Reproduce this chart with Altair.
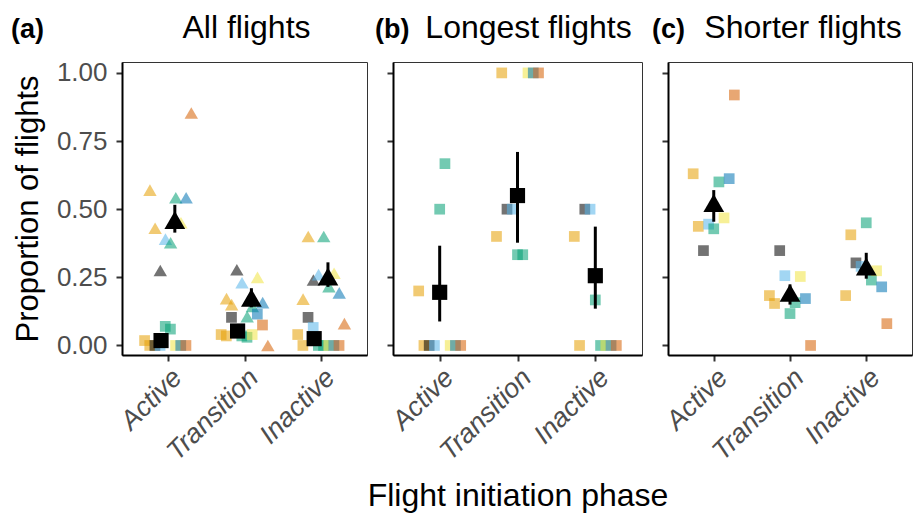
import altair as alt
import pandas as pd

PHASES = ["Active", "Transition", "Inactive"]
IDS = ["ID1", "ID2", "ID3", "ID4", "ID5", "ID6", "ID7", "ID8", "ID9"]
ID_COLORS = ["#E69F00", "#E69F00", "#000000", "#56B4E9", "#009E73",
             "#009E73", "#F0E442", "#0072B2", "#D55E00"]

# individual proportions (one value per individual, order of IDS)
a_tri_active = [0.57, 0.43, 0.275, 0.39, 0.377, 0.542, 0.45, 0.542, 0.853]
a_tri_transition = [0.172, 0.15, 0.278, 0.23, 0.106, 0.143, 0.25, 0.157, 0.0]
a_tri_inactive = [0.17, 0.40, 0.24, 0.26, 0.40, 0.216, 0.265, 0.193, 0.08]
a_sq_active = [0.018, 0.0, 0.0, 0.0, 0.07, 0.06, 0.0, 0.0, 0.0]
a_sq_transition = [0.04, 0.035, 0.103, 0.05, 0.035, 0.03, 0.04, 0.115, 0.075]
a_sq_inactive = [0.04, 0.0, 0.103, 0.066, 0.0, 0.0, 0.0, 0.0, 0.0]
b_sq_active = [0.2, 0.0, 0.0, 0.0, 0.5, 0.667, 0.0, 0.0, 0.0]
b_sq_transition = [0.4, 1.0, 0.5, 0.5, 0.333, 0.333, 1.0, 1.0, 1.0]
b_sq_inactive = [0.4, 0.0, 0.5, 0.5, 0.167, 0.0, 0.0, 0.0, 0.0]
c_sq_active = [0.63, 0.437, 0.348, 0.445, 0.428, 0.60, 0.468, 0.612, 0.919]
c_sq_transition = [0.183, 0.154, 0.348, 0.256, 0.117, 0.157, 0.253, 0.172, 0.0]
c_sq_inactive = [0.183, 0.406, 0.303, 0.29, 0.45, 0.24, 0.274, 0.215, 0.08]

# model means and intervals (Active, Transition, Inactive)
a_tri_mean = [0.46, 0.175, 0.253]
a_tri_lo = [0.414, 0.14, 0.215]
a_tri_hi = [0.516, 0.21, 0.305]
a_sq_mean = [0.018, 0.053, 0.025]
a_sq_lo = [0.008, 0.04, 0.015]
a_sq_hi = [0.03, 0.066, 0.037]
b_sq_mean = [0.195, 0.55, 0.256]
b_sq_lo = [0.088, 0.377, 0.135]
b_sq_hi = [0.366, 0.71, 0.436]
c_tri_mean = [0.523, 0.193, 0.29]
c_tri_lo = [0.454, 0.15, 0.245]
c_tri_hi = [0.57, 0.224, 0.34]

PANEL_TITLES = {"a": "All flights", "b": "Longest flights", "c": "Shorter flights"}
TAGS = {"a": "(a)", "b": "(b)", "c": "(c)"}

point_sets = [
    ("a", "tri", [a_tri_active, a_tri_transition, a_tri_inactive]),
    ("a", "sq", [a_sq_active, a_sq_transition, a_sq_inactive]),
    ("b", "sq", [b_sq_active, b_sq_transition, b_sq_inactive]),
    ("c", "sq", [c_sq_active, c_sq_transition, c_sq_inactive]),
]
rows = []
for panel, grp, lists in point_sets:
    for pi, (phase, vals) in enumerate(zip(PHASES, lists), start=1):
        for k, (ind, v) in enumerate(zip(IDS, vals)):
            rows.append(dict(panel=panel, grp=grp, phase=phase, pi=pi,
                             ind=ind, k=k, value=v))
points = pd.DataFrame(rows)

mean_sets = [
    ("a", "sq", a_sq_mean, a_sq_lo, a_sq_hi),
    ("a", "tri", a_tri_mean, a_tri_lo, a_tri_hi),
    ("b", "sq", b_sq_mean, b_sq_lo, b_sq_hi),
    ("c", "tri", c_tri_mean, c_tri_lo, c_tri_hi),
]
mrows = []
for panel, grp, m, lo, hi in mean_sets:
    for pi, phase in enumerate(PHASES, start=1):
        mrows.append(dict(panel=panel, grp=grp, phase=phase, pi=pi,
                          mean=m[pi - 1], lo=lo[pi - 1], hi=hi[pi - 1]))
means = pd.DataFrame(mrows)

label_expr = " : ".join(
    f"datum.value == {i} ? '{p}'" for i, p in enumerate(PHASES[:-1], start=1)
) + f" : '{PHASES[-1]}'"

FONT = "Liberation Sans"
WIDTHS = {"a": 245, "b": 249, "c": 244}
H = 293
TITLE_SHIFT = {"a": 2, "b": 11, "c": 13}
TAG_DX = {"a": -111, "b": -18, "c": -16}
TEXT_Y = -24


def panel_chart(p):
    W = WIDTHS[p]
    xaxis = alt.Axis(values=[1, 2, 3], labelExpr=label_expr, labelAngle=-45,
                     labelAlign="right", labelBaseline="top", labelPadding=3,
                     labelFontStyle="italic", labelOverlap=False, labelFontSize=27,
                     title="Flight initiation phase" if p == "b" else None,
                     titlePadding=16)
    yaxis = alt.Axis(values=[0, 0.25, 0.5, 0.75, 1.0], format=".2f",
                     labels=(p == "a"), labelFontSize=26,
                     title="Proportion of flights" if p == "a" else None,
                     titlePadding=12, titleFontSize=31)
    xscale = alt.Scale(domain=[0.4, 3.6], nice=False, zero=False)
    yscale = alt.Scale(domain=[-0.035, 1.04], nice=False, zero=False)

    pts = (
        alt.Chart(points[points.panel == p])
        .transform_calculate(
            xpos="datum.pi + (datum.k - 4) * 0.0675 + (datum.panel == 'a' ? (datum.grp == 'tri' ? 0.035 : -0.035) : 0)"
        )
        .mark_point(filled=True, opacity=0.55, strokeWidth=0)
        .encode(
            x=alt.X("xpos:Q", scale=xscale, axis=xaxis),
            y=alt.Y("value:Q", scale=yscale, axis=yaxis),
            color=alt.Color("ind:N", scale=alt.Scale(domain=IDS, range=ID_COLORS), legend=None),
            shape=alt.Shape("grp:N", scale=alt.Scale(domain=["sq", "tri"], range=["square", "triangle-up"]), legend=None),
            size=alt.Size("grp:N", scale=alt.Scale(domain=["sq", "tri"], range=[115, 180]), legend=None),
        )
    )
    mbase = alt.Chart(means[means.panel == p]).transform_calculate(
        xpos="datum.pi + (datum.panel == 'a' ? (datum.grp == 'tri' ? 0.09 : -0.09) : 0)"
    )
    bars = mbase.mark_rule(color="black", strokeWidth=3).encode(
        x=alt.X("xpos:Q", scale=xscale),
        y=alt.Y("lo:Q", scale=yscale),
        y2="hi:Q",
    )
    dots = mbase.mark_point(filled=True, opacity=1, color="black", strokeWidth=0).encode(
        x=alt.X("xpos:Q", scale=xscale),
        y=alt.Y("mean:Q", scale=yscale),
        shape=alt.Shape("grp:N", scale=alt.Scale(domain=["sq", "tri"], range=["square", "triangle-up"]), legend=None),
        size=alt.Size("grp:N", scale=alt.Scale(domain=["sq", "tri"], range=[230, 430]), legend=None),
    )
    tag = alt.Chart(pd.DataFrame({"t": [TAGS[p]]})).mark_text(
        align="left", baseline="alphabetic", fontSize=27, fontWeight="bold",
        font=FONT, color="black"
    ).encode(text="t:N", x=alt.value(TAG_DX[p]), y=alt.value(TEXT_Y))
    title = alt.Chart(pd.DataFrame({"t": [PANEL_TITLES[p]]})).mark_text(
        align="center", baseline="alphabetic", fontSize=32, fontWeight="normal",
        font=FONT, color="black"
    ).encode(text="t:N", x=alt.value(W / 2 + TITLE_SHIFT[p]), y=alt.value(TEXT_Y))
    return alt.layer(pts, bars, dots, tag, title).resolve_scale(size="independent").properties(
        width=W, height=H,
    )


chart = (
    alt.hconcat(panel_chart("a"), panel_chart("b"), panel_chart("c"), spacing=26, bounds="flush")
    .properties(padding={"left": 10, "top": 11, "right": 3, "bottom": 3})
    .configure(font=FONT)
    .configure_view(stroke="#333333", strokeWidth=1)
    .configure_axis(
        grid=False, domainColor="black", domainWidth=2, tickColor="#333333",
        tickWidth=2, tickSize=6, labelColor="#4D4D4D",
        labelFont=FONT, titleFont=FONT, titleFontSize=32, titleFontWeight="normal",
        titleColor="black", labelPadding=9,
    )
)

chart.save("out.html", embed_options={"renderer": "svg", "actions": False})
